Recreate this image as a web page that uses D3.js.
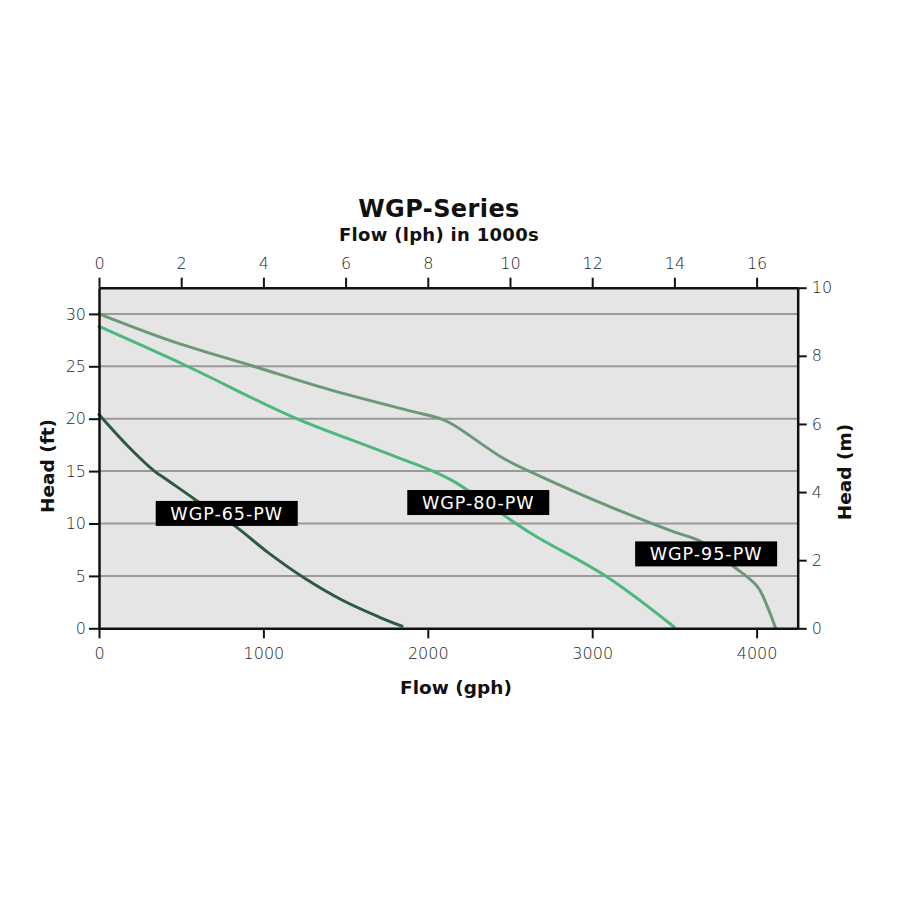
<!DOCTYPE html>
<html>
<head>
<meta charset="utf-8">
<script src="https://cdn.jsdelivr.net/npm/d3@7"></script>
<style>
  html, body { margin: 0; padding: 0; background: #ffffff; }
  svg { display: block; }
  text { font-family: "DejaVu Sans", "Noto Sans", sans-serif; }
</style>
</head>
<body>
<svg id="chart" width="900" height="900"></svg>
<script>
// ---- data ----
const seriesNames = ["WGP-65-PW", "WGP-80-PW", "WGP-95-PW"];
const gph65 = [0, 178, 341, 402, 584, 828, 1031, 1254, 1478, 1700, 1843];
const ft65  = [20.4, 17.35, 14.95, 14.3, 12.3, 9.75, 7.2, 4.75, 2.7, 1.1, 0.2];
const gph80 = [0, 524, 1173, 1700, 2030, 2160, 2360, 2624, 3091, 3497];
const ft80  = [28.8, 25.1, 20.2, 17.0, 15.0, 14.0, 11.9, 9.1, 4.9, 0.15];
const gph95 = [0, 442, 930, 1396, 1904, 2076, 2157, 2462, 2685, 3009, 3170, 3497, 3659, 3860, 4004, 4065, 4116];
const ft95  = [30, 27.4, 25.05, 22.8, 20.7, 20.0, 19.4, 16.2, 14.5, 12.25, 11.2, 9.2, 8.3, 5.9, 4.0, 2.1, 0];
const labelGph = [777, 2307, 3693];
const labelFt  = [10.96, 12.0, 7.1];
const bottomTicks = [0, 1000, 2000, 3000, 4000];
const topTicks = [0, 2, 4, 6, 8, 10, 12, 14, 16];
const leftTicks = [0, 5, 10, 15, 20, 25, 30];
const rightTicks = [0, 2, 4, 6, 8, 10];
const titleText = "WGP-Series";
const topAxisTitle = "Flow (lph) in 1000s";
const bottomAxisTitle = "Flow (gph)";
const leftAxisTitle = "Head (ft)";
const rightAxisTitle = "Head (m)";

const colors = ["#2e5b40", "#4db77d", "#6c9877"];

// ---- layout ----
const svg = d3.select("#chart");
const L = 99, R = 797.7, T = 287.7, B = 628.3;

const x = d3.scaleLinear().domain([0, 4250]).range([L, R]);
const xTop = d3.scaleLinear().domain([0, 17]).range([L, R]);
const y = d3.scaleLinear().domain([0, 32.5]).range([B, T]);
const yR = d3.scaleLinear().domain([0, 10]).range([B, T]);

// background
svg.append("rect").attr("x", L).attr("y", T).attr("width", R - L).attr("height", B - T)
  .attr("fill", "#e5e5e6");

// gridlines
svg.append("g").selectAll("line").data(leftTicks.filter(d => d > 0)).join("line")
  .attr("x1", L).attr("x2", R).attr("y1", d => y(d)).attr("y2", d => y(d))
  .attr("stroke", "#9a9a9a").attr("stroke-width", 2);

// curves
const series = [
  { g: gph65, f: ft65 },
  { g: gph80, f: ft80 },
  { g: gph95, f: ft95 }
];
const line = d3.line().x(d => x(d[0])).y(d => y(d[1])).curve(d3.curveCatmullRom.alpha(0.5));
svg.append("g").selectAll("path").data(series).join("path")
  .attr("d", s => line(s.g.map((v, i) => [v, s.f[i]])))
  .attr("fill", "none")
  .attr("stroke", (s, i) => colors[i])
  .attr("stroke-width", 3)
  .attr("stroke-linecap", "round")
  .attr("stroke-linejoin", "round");

// axes
function styleAxis(g) {
  g.selectAll(".domain").attr("stroke", "#111").attr("stroke-width", 2.5);
  g.selectAll(".tick line").attr("stroke", "#111").attr("stroke-width", 2);
  g.selectAll(".tick text").attr("fill", "#262626").attr("font-size", 16)
    .attr("font-weight", 300).attr("font-family", "'DejaVu Sans', sans-serif");
}
svg.append("g").attr("transform", `translate(0,${B})`)
  .call(d3.axisBottom(x).tickValues(bottomTicks).tickFormat(d3.format("d")).tickSize(10).tickSizeOuter(0).tickPadding(9))
  .call(styleAxis);
svg.append("g").attr("transform", `translate(0,${T})`)
  .call(d3.axisTop(xTop).tickValues(topTicks).tickFormat(d3.format("d")).tickSize(10).tickSizeOuter(0).tickPadding(9))
  .call(styleAxis);
svg.append("g").attr("transform", `translate(${L},0)`)
  .call(d3.axisLeft(y).tickValues(leftTicks).tickFormat(d3.format("d")).tickSize(10).tickSizeOuter(0).tickPadding(3))
  .call(styleAxis);
svg.append("g").attr("transform", `translate(${R},0)`)
  .call(d3.axisRight(yR).tickValues(rightTicks).tickFormat(d3.format("d")).tickSize(9).tickSizeOuter(0).tickPadding(5))
  .call(styleAxis);

// series labels
const lab = svg.append("g").selectAll("g").data(seriesNames).join("g")
  .attr("transform", (d, i) => `translate(${x(labelGph[i])},${y(labelFt[i])})`);
lab.append("rect").attr("x", -71).attr("y", -12.5).attr("width", 142).attr("height", 25).attr("fill", "#000");
lab.append("text").text(d => d).attr("text-anchor", "middle").attr("dy", "0.37em")
  .attr("fill", "#fff").attr("font-size", 17.5).attr("letter-spacing", 1);

// titles
function bold(t, size) {
  return t.attr("font-size", size).attr("font-weight", 700).attr("fill", "#111").attr("text-anchor", "middle");
}
bold(svg.append("text").text(titleText).attr("x", 439).attr("y", 216.5), 24).attr("letter-spacing", 0.4);
bold(svg.append("text").text(topAxisTitle).attr("x", 439).attr("y", 241), 18).attr("letter-spacing", 0.3);
bold(svg.append("text").text(bottomAxisTitle).attr("x", 456).attr("y", 693.5), 18.5);
bold(svg.append("text").text(leftAxisTitle).attr("transform", "translate(53.5,466) rotate(-90)"), 18.5);
bold(svg.append("text").text(rightAxisTitle).attr("transform", "translate(850.5,472) rotate(-90)"), 18.5);
</script>
</body>
</html>
